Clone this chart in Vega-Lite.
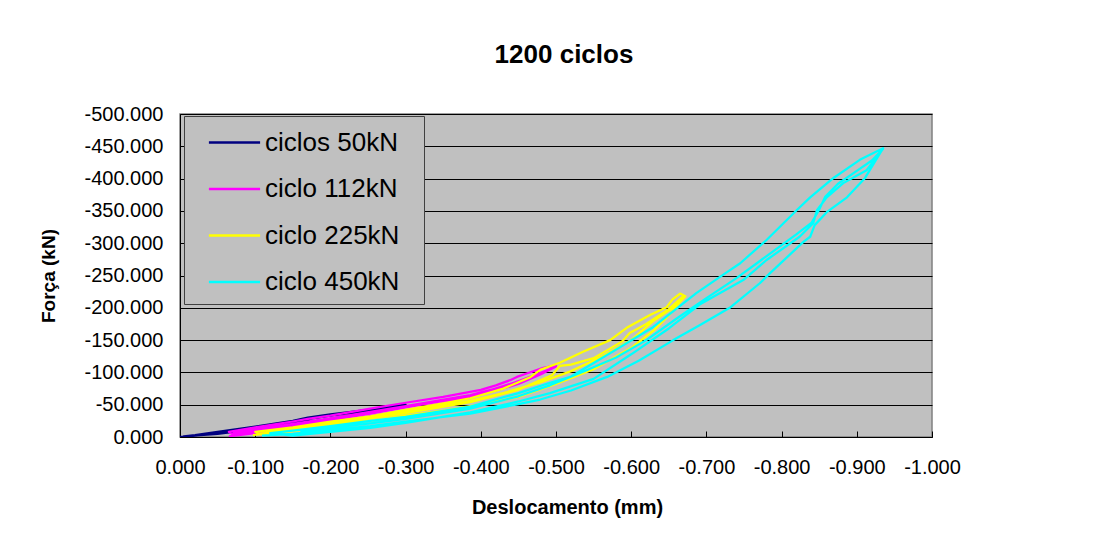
{
  "$schema": "https://vega.github.io/schema/vega-lite/v6.json",
  "width": 752,
  "height": 323,
  "autosize": {"type": "none"},
  "padding": {"left": 180, "top": 114, "right": 171, "bottom": 98},
  "background": "white",
  "title": {"text": "1200 ciclos", "font": "Liberation Sans", "fontSize": 26, "fontWeight": "bold", "color": "black", "anchor": "middle", "baseline": "alphabetic", "offset": 15, "dx": 8},
  "data": {"values": [
    {"s":"ciclos 50kN","i":1,"x":0,"f":0},
    {"s":"ciclos 50kN","i":2,"x":-0.02,"f":-2},
    {"s":"ciclos 50kN","i":3,"x":-0.05,"f":-6},
    {"s":"ciclos 50kN","i":4,"x":-0.1,"f":-14},
    {"s":"ciclos 50kN","i":5,"x":-0.15,"f":-22},
    {"s":"ciclos 50kN","i":6,"x":-0.17,"f":-25},
    {"s":"ciclos 50kN","i":7,"x":-0.175,"f":-30},
    {"s":"ciclos 50kN","i":8,"x":-0.2,"f":-34},
    {"s":"ciclos 50kN","i":9,"x":-0.25,"f":-41},
    {"s":"ciclos 50kN","i":10,"x":-0.28,"f":-46},
    {"s":"ciclos 50kN","i":11,"x":-0.3,"f":-50},
    {"s":"ciclos 50kN","i":12,"x":-0.28,"f":-47},
    {"s":"ciclos 50kN","i":13,"x":-0.25,"f":-42},
    {"s":"ciclos 50kN","i":14,"x":-0.2,"f":-35},
    {"s":"ciclos 50kN","i":15,"x":-0.17,"f":-30},
    {"s":"ciclos 50kN","i":16,"x":-0.15,"f":-25},
    {"s":"ciclos 50kN","i":17,"x":-0.1,"f":-16},
    {"s":"ciclos 50kN","i":18,"x":-0.05,"f":-8},
    {"s":"ciclos 50kN","i":19,"x":-0.02,"f":-3},
    {"s":"ciclos 50kN","i":20,"x":-0.005,"f":-1},
    {"s":"ciclos 50kN","i":21,"x":-0.05,"f":-5},
    {"s":"ciclos 50kN","i":22,"x":-0.1,"f":-12},
    {"s":"ciclos 50kN","i":23,"x":-0.15,"f":-19},
    {"s":"ciclos 50kN","i":24,"x":-0.2,"f":-28},
    {"s":"ciclos 50kN","i":25,"x":-0.25,"f":-38},
    {"s":"ciclos 50kN","i":26,"x":-0.3,"f":-49},
    {"s":"ciclos 50kN","i":27,"x":-0.25,"f":-41},
    {"s":"ciclos 50kN","i":28,"x":-0.2,"f":-33},
    {"s":"ciclos 50kN","i":29,"x":-0.15,"f":-24},
    {"s":"ciclos 50kN","i":30,"x":-0.1,"f":-15},
    {"s":"ciclos 50kN","i":31,"x":-0.05,"f":-7},
    {"s":"ciclos 50kN","i":32,"x":-0.02,"f":-2},

    {"s":"ciclo 112kN","i":1,"x":-0.065,"f":-1},
    {"s":"ciclo 112kN","i":2,"x":-0.1,"f":-6},
    {"s":"ciclo 112kN","i":3,"x":-0.15,"f":-13},
    {"s":"ciclo 112kN","i":4,"x":-0.2,"f":-22},
    {"s":"ciclo 112kN","i":5,"x":-0.253,"f":-32},
    {"s":"ciclo 112kN","i":6,"x":-0.3,"f":-41},
    {"s":"ciclo 112kN","i":7,"x":-0.35,"f":-52},
    {"s":"ciclo 112kN","i":8,"x":-0.386,"f":-62},
    {"s":"ciclo 112kN","i":9,"x":-0.42,"f":-72},
    {"s":"ciclo 112kN","i":10,"x":-0.45,"f":-82},
    {"s":"ciclo 112kN","i":11,"x":-0.48,"f":-97},
    {"s":"ciclo 112kN","i":12,"x":-0.5,"f":-109},
    {"s":"ciclo 112kN","i":13,"x":-0.5,"f":-111},
    {"s":"ciclo 112kN","i":14,"x":-0.483,"f":-107},
    {"s":"ciclo 112kN","i":15,"x":-0.46,"f":-98},
    {"s":"ciclo 112kN","i":16,"x":-0.448,"f":-93},
    {"s":"ciclo 112kN","i":17,"x":-0.439,"f":-88},
    {"s":"ciclo 112kN","i":18,"x":-0.42,"f":-80},
    {"s":"ciclo 112kN","i":19,"x":-0.4,"f":-73},
    {"s":"ciclo 112kN","i":20,"x":-0.35,"f":-62},
    {"s":"ciclo 112kN","i":21,"x":-0.3,"f":-53},
    {"s":"ciclo 112kN","i":22,"x":-0.253,"f":-44},
    {"s":"ciclo 112kN","i":23,"x":-0.2,"f":-33},
    {"s":"ciclo 112kN","i":24,"x":-0.17,"f":-28},
    {"s":"ciclo 112kN","i":25,"x":-0.15,"f":-24},
    {"s":"ciclo 112kN","i":26,"x":-0.1,"f":-15},
    {"s":"ciclo 112kN","i":27,"x":-0.065,"f":-8},
    {"s":"ciclo 112kN","i":28,"x":-0.07,"f":-4},
    {"s":"ciclo 112kN","i":29,"x":-0.1,"f":-9},
    {"s":"ciclo 112kN","i":30,"x":-0.15,"f":-17},
    {"s":"ciclo 112kN","i":31,"x":-0.2,"f":-26},
    {"s":"ciclo 112kN","i":32,"x":-0.253,"f":-36},
    {"s":"ciclo 112kN","i":33,"x":-0.3,"f":-46},
    {"s":"ciclo 112kN","i":34,"x":-0.35,"f":-56},
    {"s":"ciclo 112kN","i":35,"x":-0.4,"f":-68},
    {"s":"ciclo 112kN","i":36,"x":-0.45,"f":-86},
    {"s":"ciclo 112kN","i":37,"x":-0.498,"f":-108},
    {"s":"ciclo 112kN","i":38,"x":-0.47,"f":-95},
    {"s":"ciclo 112kN","i":39,"x":-0.43,"f":-78},
    {"s":"ciclo 112kN","i":40,"x":-0.386,"f":-65},
    {"s":"ciclo 112kN","i":41,"x":-0.3,"f":-48},
    {"s":"ciclo 112kN","i":42,"x":-0.2,"f":-29},
    {"s":"ciclo 112kN","i":43,"x":-0.1,"f":-12},
    {"s":"ciclo 112kN","i":44,"x":-0.07,"f":-6},

    {"s":"ciclo 225kN","i":1,"x":-0.097,"f":-3},
    {"s":"ciclo 225kN","i":2,"x":-0.15,"f":-9},
    {"s":"ciclo 225kN","i":3,"x":-0.2,"f":-17},
    {"s":"ciclo 225kN","i":4,"x":-0.253,"f":-25},
    {"s":"ciclo 225kN","i":5,"x":-0.3,"f":-33},
    {"s":"ciclo 225kN","i":6,"x":-0.35,"f":-41},
    {"s":"ciclo 225kN","i":7,"x":-0.386,"f":-48},
    {"s":"ciclo 225kN","i":8,"x":-0.45,"f":-62},
    {"s":"ciclo 225kN","i":9,"x":-0.5,"f":-82},
    {"s":"ciclo 225kN","i":10,"x":-0.55,"f":-105},
    {"s":"ciclo 225kN","i":11,"x":-0.6,"f":-138},
    {"s":"ciclo 225kN","i":12,"x":-0.63,"f":-165},
    {"s":"ciclo 225kN","i":13,"x":-0.65,"f":-188},
    {"s":"ciclo 225kN","i":14,"x":-0.662,"f":-205},
    {"s":"ciclo 225kN","i":15,"x":-0.672,"f":-218},
    {"s":"ciclo 225kN","i":16,"x":-0.665,"f":-222},
    {"s":"ciclo 225kN","i":17,"x":-0.655,"f":-213},
    {"s":"ciclo 225kN","i":18,"x":-0.647,"f":-201},
    {"s":"ciclo 225kN","i":19,"x":-0.625,"f":-189},
    {"s":"ciclo 225kN","i":20,"x":-0.594,"f":-169},
    {"s":"ciclo 225kN","i":21,"x":-0.572,"f":-150},
    {"s":"ciclo 225kN","i":22,"x":-0.536,"f":-132},
    {"s":"ciclo 225kN","i":23,"x":-0.505,"f":-115},
    {"s":"ciclo 225kN","i":24,"x":-0.479,"f":-104},
    {"s":"ciclo 225kN","i":25,"x":-0.465,"f":-92},
    {"s":"ciclo 225kN","i":26,"x":-0.43,"f":-75},
    {"s":"ciclo 225kN","i":27,"x":-0.386,"f":-60},
    {"s":"ciclo 225kN","i":28,"x":-0.35,"f":-52},
    {"s":"ciclo 225kN","i":29,"x":-0.3,"f":-42},
    {"s":"ciclo 225kN","i":30,"x":-0.253,"f":-32},
    {"s":"ciclo 225kN","i":31,"x":-0.2,"f":-24},
    {"s":"ciclo 225kN","i":32,"x":-0.15,"f":-15},
    {"s":"ciclo 225kN","i":33,"x":-0.1,"f":-8},
    {"s":"ciclo 225kN","i":34,"x":-0.105,"f":-5},
    {"s":"ciclo 225kN","i":35,"x":-0.2,"f":-20},
    {"s":"ciclo 225kN","i":36,"x":-0.3,"f":-37},
    {"s":"ciclo 225kN","i":37,"x":-0.386,"f":-54},
    {"s":"ciclo 225kN","i":38,"x":-0.45,"f":-73},
    {"s":"ciclo 225kN","i":39,"x":-0.495,"f":-96},
    {"s":"ciclo 225kN","i":40,"x":-0.505,"f":-110},
    {"s":"ciclo 225kN","i":41,"x":-0.52,"f":-112},
    {"s":"ciclo 225kN","i":42,"x":-0.55,"f":-122},
    {"s":"ciclo 225kN","i":43,"x":-0.588,"f":-148},
    {"s":"ciclo 225kN","i":44,"x":-0.598,"f":-161},
    {"s":"ciclo 225kN","i":45,"x":-0.62,"f":-175},
    {"s":"ciclo 225kN","i":46,"x":-0.65,"f":-198},
    {"s":"ciclo 225kN","i":47,"x":-0.67,"f":-219},
    {"s":"ciclo 225kN","i":48,"x":-0.655,"f":-200},
    {"s":"ciclo 225kN","i":49,"x":-0.63,"f":-180},
    {"s":"ciclo 225kN","i":50,"x":-0.6,"f":-150},
    {"s":"ciclo 225kN","i":51,"x":-0.56,"f":-124},
    {"s":"ciclo 225kN","i":52,"x":-0.52,"f":-102},
    {"s":"ciclo 225kN","i":53,"x":-0.48,"f":-85},
    {"s":"ciclo 225kN","i":54,"x":-0.43,"f":-68},
    {"s":"ciclo 225kN","i":55,"x":-0.386,"f":-56},
    {"s":"ciclo 225kN","i":56,"x":-0.3,"f":-39},
    {"s":"ciclo 225kN","i":57,"x":-0.2,"f":-22},
    {"s":"ciclo 225kN","i":58,"x":-0.12,"f":-10},

    {"s":"ciclo 450kN","i":1,"x":-0.109,"f":-2},
    {"s":"ciclo 450kN","i":2,"x":-0.15,"f":-5},
    {"s":"ciclo 450kN","i":3,"x":-0.2,"f":-11},
    {"s":"ciclo 450kN","i":4,"x":-0.253,"f":-17},
    {"s":"ciclo 450kN","i":5,"x":-0.3,"f":-24},
    {"s":"ciclo 450kN","i":6,"x":-0.386,"f":-36},
    {"s":"ciclo 450kN","i":7,"x":-0.45,"f":-51},
    {"s":"ciclo 450kN","i":8,"x":-0.479,"f":-58},
    {"s":"ciclo 450kN","i":9,"x":-0.52,"f":-72},
    {"s":"ciclo 450kN","i":10,"x":-0.568,"f":-93},
    {"s":"ciclo 450kN","i":11,"x":-0.61,"f":-118},
    {"s":"ciclo 450kN","i":12,"x":-0.656,"f":-150},
    {"s":"ciclo 450kN","i":13,"x":-0.691,"f":-173},
    {"s":"ciclo 450kN","i":14,"x":-0.731,"f":-200},
    {"s":"ciclo 450kN","i":15,"x":-0.771,"f":-238},
    {"s":"ciclo 450kN","i":16,"x":-0.785,"f":-254},
    {"s":"ciclo 450kN","i":17,"x":-0.829,"f":-302},
    {"s":"ciclo 450kN","i":18,"x":-0.838,"f":-310},
    {"s":"ciclo 450kN","i":19,"x":-0.844,"f":-328},
    {"s":"ciclo 450kN","i":20,"x":-0.86,"f":-348},
    {"s":"ciclo 450kN","i":21,"x":-0.887,"f":-371},
    {"s":"ciclo 450kN","i":22,"x":-0.911,"f":-401},
    {"s":"ciclo 450kN","i":23,"x":-0.935,"f":-447},
    {"s":"ciclo 450kN","i":24,"x":-0.904,"f":-429},
    {"s":"ciclo 450kN","i":25,"x":-0.869,"f":-401},
    {"s":"ciclo 450kN","i":26,"x":-0.838,"f":-371},
    {"s":"ciclo 450kN","i":27,"x":-0.82,"f":-351},
    {"s":"ciclo 450kN","i":28,"x":-0.78,"f":-305},
    {"s":"ciclo 450kN","i":29,"x":-0.745,"f":-269},
    {"s":"ciclo 450kN","i":30,"x":-0.722,"f":-251},
    {"s":"ciclo 450kN","i":31,"x":-0.687,"f":-223},
    {"s":"ciclo 450kN","i":32,"x":-0.629,"f":-170},
    {"s":"ciclo 450kN","i":33,"x":-0.585,"f":-139},
    {"s":"ciclo 450kN","i":34,"x":-0.519,"f":-93},
    {"s":"ciclo 450kN","i":35,"x":-0.492,"f":-84},
    {"s":"ciclo 450kN","i":36,"x":-0.45,"f":-68},
    {"s":"ciclo 450kN","i":37,"x":-0.386,"f":-47},
    {"s":"ciclo 450kN","i":38,"x":-0.3,"f":-31},
    {"s":"ciclo 450kN","i":39,"x":-0.253,"f":-25},
    {"s":"ciclo 450kN","i":40,"x":-0.2,"f":-17},
    {"s":"ciclo 450kN","i":41,"x":-0.15,"f":-10},
    {"s":"ciclo 450kN","i":42,"x":-0.12,"f":-6},
    {"s":"ciclo 450kN","i":43,"x":-0.15,"f":-2},
    {"s":"ciclo 450kN","i":44,"x":-0.2,"f":-8},
    {"s":"ciclo 450kN","i":45,"x":-0.253,"f":-14},
    {"s":"ciclo 450kN","i":46,"x":-0.3,"f":-22},
    {"s":"ciclo 450kN","i":47,"x":-0.386,"f":-38},
    {"s":"ciclo 450kN","i":48,"x":-0.45,"f":-55},
    {"s":"ciclo 450kN","i":49,"x":-0.492,"f":-68},
    {"s":"ciclo 450kN","i":50,"x":-0.55,"f":-90},
    {"s":"ciclo 450kN","i":51,"x":-0.6,"f":-128},
    {"s":"ciclo 450kN","i":52,"x":-0.65,"f":-168},
    {"s":"ciclo 450kN","i":53,"x":-0.691,"f":-205},
    {"s":"ciclo 450kN","i":54,"x":-0.749,"f":-243},
    {"s":"ciclo 450kN","i":55,"x":-0.78,"f":-274},
    {"s":"ciclo 450kN","i":56,"x":-0.824,"f":-310},
    {"s":"ciclo 450kN","i":57,"x":-0.842,"f":-331},
    {"s":"ciclo 450kN","i":58,"x":-0.847,"f":-351},
    {"s":"ciclo 450kN","i":59,"x":-0.86,"f":-371},
    {"s":"ciclo 450kN","i":60,"x":-0.882,"f":-393},
    {"s":"ciclo 450kN","i":61,"x":-0.913,"f":-413},
    {"s":"ciclo 450kN","i":62,"x":-0.935,"f":-446},
    {"s":"ciclo 450kN","i":63,"x":-0.92,"f":-428},
    {"s":"ciclo 450kN","i":64,"x":-0.9,"f":-412},
    {"s":"ciclo 450kN","i":65,"x":-0.875,"f":-392},
    {"s":"ciclo 450kN","i":66,"x":-0.858,"f":-372},
    {"s":"ciclo 450kN","i":67,"x":-0.85,"f":-352},
    {"s":"ciclo 450kN","i":68,"x":-0.84,"f":-332},
    {"s":"ciclo 450kN","i":69,"x":-0.82,"f":-314},
    {"s":"ciclo 450kN","i":70,"x":-0.78,"f":-280},
    {"s":"ciclo 450kN","i":71,"x":-0.74,"f":-246},
    {"s":"ciclo 450kN","i":72,"x":-0.7,"f":-215},
    {"s":"ciclo 450kN","i":73,"x":-0.66,"f":-183},
    {"s":"ciclo 450kN","i":74,"x":-0.62,"f":-150},
    {"s":"ciclo 450kN","i":75,"x":-0.58,"f":-123},
    {"s":"ciclo 450kN","i":76,"x":-0.54,"f":-103},
    {"s":"ciclo 450kN","i":77,"x":-0.492,"f":-80},
    {"s":"ciclo 450kN","i":78,"x":-0.45,"f":-63},
    {"s":"ciclo 450kN","i":79,"x":-0.386,"f":-44},
    {"s":"ciclo 450kN","i":80,"x":-0.3,"f":-28},
    {"s":"ciclo 450kN","i":81,"x":-0.253,"f":-21},
    {"s":"ciclo 450kN","i":82,"x":-0.2,"f":-14},
    {"s":"ciclo 450kN","i":83,"x":-0.16,"f":-8}
  ]},
  "mark": {"type": "line", "strokeWidth": 2.25, "strokeJoin": "round", "clip": true},
  "encoding": {
    "x": {"field": "x", "type": "quantitative",
      "scale": {"domain": [0, -1], "nice": false, "zero": false},
      "axis": {"title": "Deslocamento (mm)", "values": [0,-0.1,-0.2,-0.3,-0.4,-0.5,-0.6,-0.7,-0.8,-0.9,-1],
        "labelExpr": "replace(format(datum.value, '.3f'), '\u2212', '-')",
        "grid": false, "tickSize": -6, "tickColor": "black", "domainColor": "black", "labelPadding": 26,
        "labelFontSize": 20, "labelFont": "Liberation Sans", "labelColor": "black", "labelOverlap": false, "labelFlush": false,
        "titleFont": "Liberation Sans", "titleFontSize": 20, "titleFontWeight": "bold", "titleColor": "black", "titlePadding": 20, "titleX": 387}},
    "y": {"field": "f", "type": "quantitative",
      "scale": {"domain": [0, -500], "nice": false, "zero": false},
      "axis": {"title": "Força (kN)", "values": [0,-50,-100,-150,-200,-250,-300,-350,-400,-450,-500],
        "labelExpr": "replace(format(datum.value, '.3f'), '\u2212', '-')",
        "grid": true, "gridColor": "black", "gridWidth": 1, "gridOpacity": 1,
        "tickSize": -6, "tickColor": "black", "domainColor": "black", "labelPadding": 23,
        "labelFontSize": 20, "labelFont": "Liberation Sans", "labelColor": "black", "labelOverlap": false, "labelFlush": false,
        "titleFont": "Liberation Sans", "titleFontSize": 19, "titleFontWeight": "bold", "titleColor": "black", "titlePadding": 26}},
    "color": {"field": "s", "type": "nominal",
      "scale": {"domain": ["ciclos 50kN", "ciclo 112kN", "ciclo 225kN", "ciclo 450kN"], "range": ["#000080", "#FF00FF", "#FFFF00", "#00FFFF"]},
      "legend": {"title": "\u00a0", "titleOrient": "right", "titleFontSize": 8, "titlePadding": 16,
        "orient": "none", "legendX": 4, "legendY": 2,
        "fillColor": "#C0C0C0", "strokeColor": "#404040", "padding": 9,
        "symbolType": "M-1.6,0H1.6", "symbolSize": 1024, "symbolStrokeWidth": 2.5, "symbolOffset": 24,
        "labelFont": "Liberation Sans", "labelFontSize": 26, "labelColor": "black", "labelOffset": 13, "labelLimit": 0,
        "rowPadding": 15.5}},
    "order": {"field": "i", "type": "quantitative"}
  },
  "config": {
    "view": {"fill": "#C0C0C0", "stroke": "#808080", "strokeWidth": 1.5}
  }
}
